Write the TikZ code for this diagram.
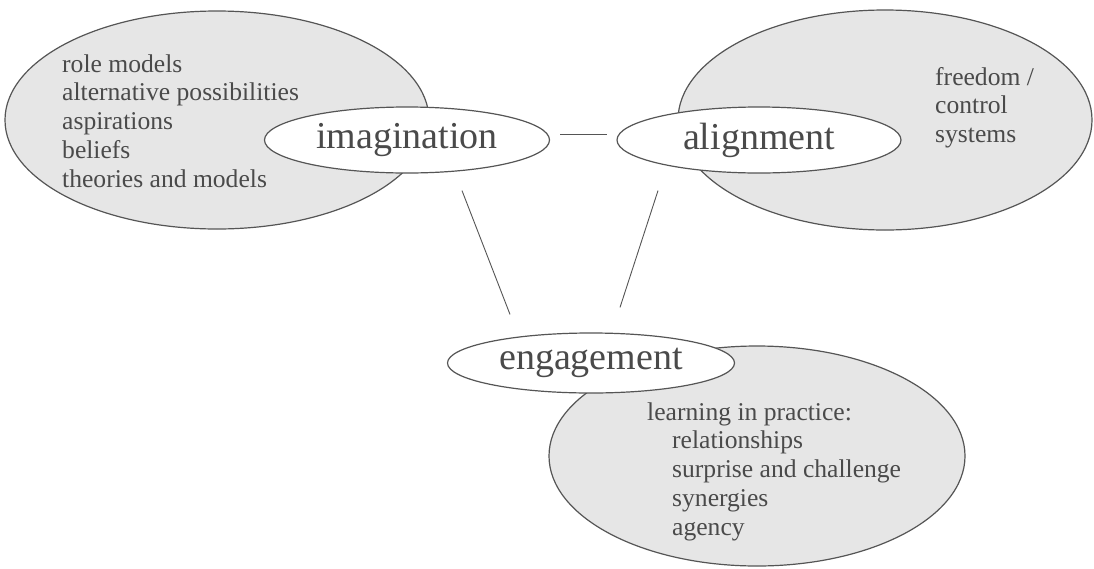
\documentclass[tikz,border=0pt]{standalone}
\usepackage{fontspec}
\setmainfont{Liberation Serif}
\usetikzlibrary{shapes.geometric}

\definecolor{rimgray}{HTML}{555555}
\definecolor{fieldgray}{HTML}{E6E6E6}
\definecolor{inkgray}{HTML}{4A4A4A}

\tikzset{
  field/.style={ellipse, draw=rimgray, line width=1.2pt, fill=fieldgray, inner sep=0pt},
  theme/.style={ellipse, draw=rimgray, line width=1.2pt, fill=white, inner sep=0pt,
                text=inkgray, font=\fontsize{38}{40}\selectfont},
  % base anchor of a multi-line node sits on its last line
  itemlist/.style={align=left, inner sep=0pt, anchor=base west, text=inkgray,
                   font=\fontsize{25.6}{28.75}\selectfont},
  link/.style={draw=rimgray, line width=0.9pt}
}

\begin{document}
\begin{tikzpicture}[x=1pt, y=-1pt]
  % page frame
  \path[fill=white, use as bounding box] (0,0) rectangle (1094,568);

  % large shaded fields
  \node[field, minimum width=424pt, minimum height=218pt] (imagfield) at (217,120) {};
  \node[field, minimum width=414pt, minimum height=220pt] (alignfield) at (885,120) {};
  \node[field, minimum width=416pt, minimum height=220pt] (engfield) at (757,456) {};

  % field contents
  \node[itemlist] (imaglist) at (62,187)
    {role models\\alternative possibilities\\aspirations\\beliefs\\theories and models};
  \node[itemlist] (alignlist) at (935,142.5)
    {freedom /\\control\\systems};
  \node[itemlist] (englist) at (647,535)
    {learning in practice:\\
     \hspace*{25pt}relationships\\
     \hspace*{25pt}surprise and challenge\\
     \hspace*{25pt}synergies\\
     \hspace*{25pt}agency};

  % theme ellipses
  \node[theme, minimum width=285pt, minimum height=66pt] (imag) at (407,140) {imagination};
  \node[theme, minimum width=284pt, minimum height=66pt] (align) at (759,140) {alignment};
  \node[theme, minimum width=287pt, minimum height=60pt] (eng) at (591,363) {engagement};

  % connectors between the themes
  \draw[link] ([xshift=10pt, yshift=6pt]imag.east) -- ([xshift=-9pt, yshift=6pt]align.west);
  \draw[link] ([xshift=55pt, yshift=-17pt]imag.south) -- ([xshift=-81pt, yshift=18pt]eng.north);
  \draw[link] ([xshift=-101pt, yshift=-17pt]align.south) -- ([xshift=29pt, yshift=25pt]eng.north);
\end{tikzpicture}
\end{document}
